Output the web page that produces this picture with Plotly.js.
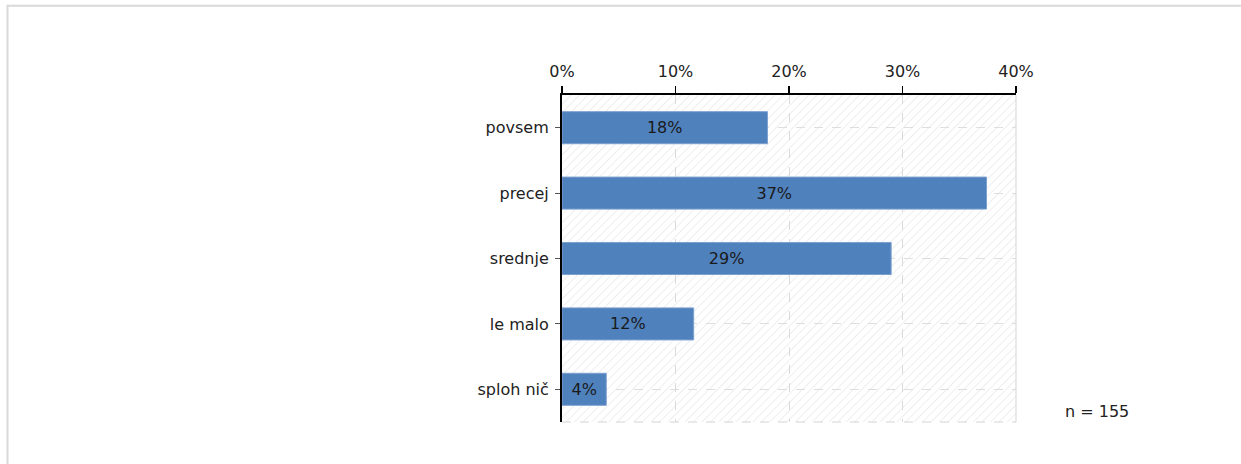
<!DOCTYPE html>
<html>
<head>
<meta charset="utf-8">
<script src="https://cdn.plot.ly/plotly-3.0.1.min.js"></script>
<style>
  html, body { margin: 0; padding: 0; background: #ffffff; }
  #chart { width: 1241px; height: 464px; }
</style>
</head>
<body>
<div id="chart"></div>
<script>
// ---- data ----
const categories = ["povsem", "precej", "srednje", "le malo", "sploh nič"];
const shares = [18.1, 37.4, 29.0, 11.6, 3.9];
const barLabels = ["18%", "37%", "29%", "12%", "4%"];
const xTickValues = [0, 10, 20, 30, 40];
const xTickLabels = ["0%", "10%", "20%", "30%", "40%"];
const sampleNote = "n = 155";

// ---- geometry (pixels) ----
const W = 1241, H = 464;
const L = 562, R = 1016, T = 95, B = 422.5;
const pw = R - L, ph = B - T;
const px = v => (v - L) / pw;
const py = v => (B - v) / ph;

const FONT = "DejaVu Sans, sans-serif";

// hatch background for plot area
const hatchSvg =
  "<svg xmlns='http://www.w3.org/2000/svg' width='" + pw + "' height='" + ph + "' preserveAspectRatio='none'>" +
  "<defs><pattern id='h' width='6' height='6' patternUnits='userSpaceOnUse' patternTransform='rotate(45)'>" +
  "<line x1='0' y1='0' x2='0' y2='6' stroke='#e2e2e2' stroke-width='1.2'/></pattern></defs>" +
  "<rect width='100%' height='100%' fill='#ffffff'/>" +
  "<rect width='100%' height='100%' fill='url(#h)'/></svg>";
const hatchUri = "data:image/svg+xml;charset=utf-8," + encodeURIComponent(hatchSvg);

const trace = {
  type: "bar",
  orientation: "h",
  x: shares,
  y: categories,
  text: barLabels,
  textposition: "inside",
  insidetextanchor: "middle",
  constraintext: "none",
  textfont: { family: FONT, size: 16, color: "#1a1a1a" },
  marker: { color: "#4f81bd", line: { color: "#7da0cf", width: 1 } },
  hoverinfo: "none",
  cliponaxis: false
};

const layout = {
  width: W, height: H,
  margin: { l: L, r: W - R, t: T, b: H - B, pad: 0 },
  paper_bgcolor: "#ffffff",
  plot_bgcolor: "rgba(0,0,0,0)",
  showlegend: false,
  bargap: 0.51,
  font: { family: FONT, size: 16, color: "#222222" },
  xaxis: {
    side: "top",
    range: [0, 40],
    tickvals: xTickValues,
    ticktext: xTickLabels,
    ticks: "outside", ticklen: 7, tickwidth: 1.5, tickcolor: "#000000",
    showline: true, linecolor: "#000000", linewidth: 2,
    showgrid: true, gridcolor: "#dadada", griddash: "dash", gridwidth: 1,
    zeroline: false,
    ticklabelstandoff: 3,
    tickfont: { family: FONT, size: 16, color: "#222222" },
    fixedrange: true
  },
  yaxis: {
    type: "category",
    categoryorder: "array",
    categoryarray: categories,
    autorange: "reversed",
    ticks: "outside", ticklen: 5, tickwidth: 1, tickcolor: "#555555",
    showline: true, linecolor: "#000000", linewidth: 2,
    showgrid: true, gridcolor: "#dedede", griddash: "dash", gridwidth: 1,
    zeroline: false,
    ticklabelstandoff: 3,
    tickfont: { family: FONT, size: 16, color: "#222222" },
    fixedrange: true
  },
  images: [{
    source: hatchUri,
    xref: "paper", yref: "paper",
    x: 0, y: 1, sizex: 1, sizey: 1,
    xanchor: "left", yanchor: "top",
    sizing: "stretch", layer: "below"
  }],
  shapes: [
    // right border of plot area
    { type: "line", xref: "paper", yref: "paper", x0: 1, x1: 1, y0: 0, y1: 1,
      line: { color: "#d4d4d4", width: 1 } },
    // bottom dashed border of plot area
    { type: "line", xref: "paper", yref: "paper", x0: 0, x1: 1, y0: 0, y1: 0,
      line: { color: "#d4d4d4", width: 1, dash: "dash" } },
    // outer frame (top and left)
    { type: "line", xref: "paper", yref: "paper", x0: px(7), x1: px(W + 5), y0: py(5.5), y1: py(5.5),
      line: { color: "#d9d9d9", width: 2 } },
    { type: "line", xref: "paper", yref: "paper", x0: px(7.5), x1: px(7.5), y0: py(4.5), y1: py(H + 5),
      line: { color: "#d9d9d9", width: 2 } }
  ],
  annotations: [{
    xref: "paper", yref: "paper",
    x: px(1063), y: py(412),
    xanchor: "left", yanchor: "middle",
    text: sampleNote, showarrow: false,
    font: { family: FONT, size: 16, color: "#222222" }
  }]
};

Plotly.newPlot("chart", [trace], layout, { displayModeBar: false, staticPlot: true });
</script>
</body>
</html>
